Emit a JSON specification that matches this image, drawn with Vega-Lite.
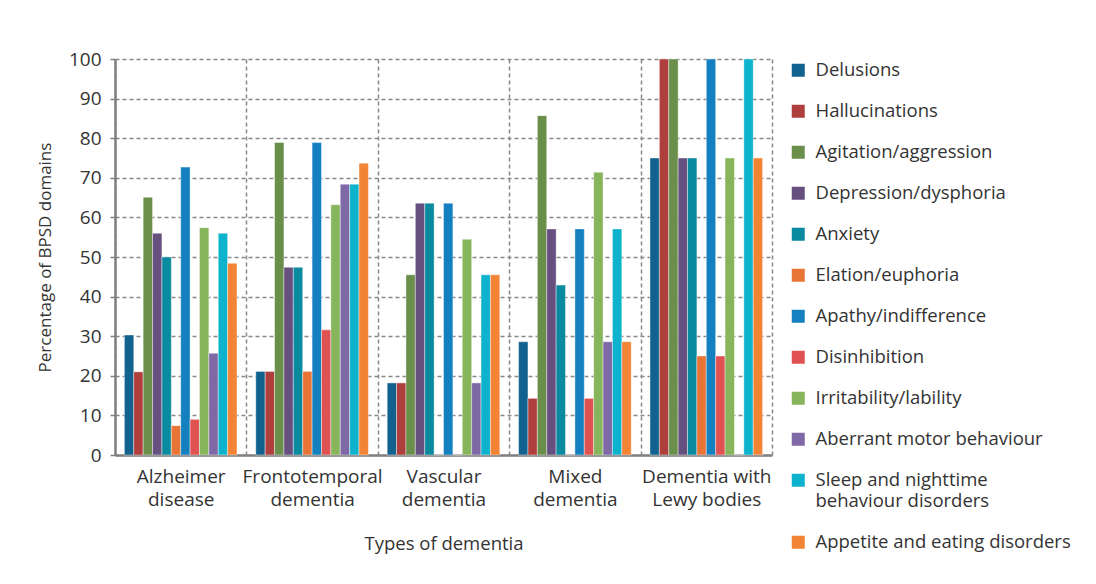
{
  "$schema": "https://vega.github.io/schema/vega-lite/v6.json",
  "width": 657,
  "height": 396,
  "autosize": {"type": "none"},
  "padding": {"left": 115, "top": 59, "right": 324, "bottom": 129},
  "background": "white",
  "config": {
    "font": "Open Sans",
    "view": {"stroke": null},
    "axis": {"labelFont": "Open Sans", "titleFont": "Open Sans", "labelColor": "#333333", "titleColor": "#333333", "labelFontSize": 19, "titleFontSize": 18.5, "titleFontWeight": "normal"},
    "legend": {"labelFont": "Open Sans", "labelFontSize": 18.5, "labelColor": "#333333"}
  },
  "data": {
    "values": [
      {"type": "Alzheimer disease", "symptom": "Delusions", "pct": 30.3},
      {"type": "Alzheimer disease", "symptom": "Hallucinations", "pct": 21.0},
      {"type": "Alzheimer disease", "symptom": "Agitation/aggression", "pct": 65.1},
      {"type": "Alzheimer disease", "symptom": "Depression/dysphoria", "pct": 56.0},
      {"type": "Alzheimer disease", "symptom": "Anxiety", "pct": 50.0},
      {"type": "Alzheimer disease", "symptom": "Elation/euphoria", "pct": 7.4},
      {"type": "Alzheimer disease", "symptom": "Apathy/indifference", "pct": 72.7},
      {"type": "Alzheimer disease", "symptom": "Disinhibition", "pct": 9.0},
      {"type": "Alzheimer disease", "symptom": "Irritability/lability", "pct": 57.4},
      {"type": "Alzheimer disease", "symptom": "Aberrant motor behaviour", "pct": 25.7},
      {"type": "Alzheimer disease", "symptom": "Sleep and nighttime behaviour disorders", "pct": 56.0},
      {"type": "Alzheimer disease", "symptom": "Appetite and eating disorders", "pct": 48.4},
      {"type": "Frontotemporal dementia", "symptom": "Delusions", "pct": 21.1},
      {"type": "Frontotemporal dementia", "symptom": "Hallucinations", "pct": 21.1},
      {"type": "Frontotemporal dementia", "symptom": "Agitation/aggression", "pct": 78.9},
      {"type": "Frontotemporal dementia", "symptom": "Depression/dysphoria", "pct": 47.4},
      {"type": "Frontotemporal dementia", "symptom": "Anxiety", "pct": 47.4},
      {"type": "Frontotemporal dementia", "symptom": "Elation/euphoria", "pct": 21.1},
      {"type": "Frontotemporal dementia", "symptom": "Apathy/indifference", "pct": 78.9},
      {"type": "Frontotemporal dementia", "symptom": "Disinhibition", "pct": 31.6},
      {"type": "Frontotemporal dementia", "symptom": "Irritability/lability", "pct": 63.2},
      {"type": "Frontotemporal dementia", "symptom": "Aberrant motor behaviour", "pct": 68.4},
      {"type": "Frontotemporal dementia", "symptom": "Sleep and nighttime behaviour disorders", "pct": 68.4},
      {"type": "Frontotemporal dementia", "symptom": "Appetite and eating disorders", "pct": 73.7},
      {"type": "Vascular dementia", "symptom": "Delusions", "pct": 18.2},
      {"type": "Vascular dementia", "symptom": "Hallucinations", "pct": 18.2},
      {"type": "Vascular dementia", "symptom": "Agitation/aggression", "pct": 45.5},
      {"type": "Vascular dementia", "symptom": "Depression/dysphoria", "pct": 63.6},
      {"type": "Vascular dementia", "symptom": "Anxiety", "pct": 63.6},
      {"type": "Vascular dementia", "symptom": "Elation/euphoria", "pct": 0},
      {"type": "Vascular dementia", "symptom": "Apathy/indifference", "pct": 63.6},
      {"type": "Vascular dementia", "symptom": "Disinhibition", "pct": 0},
      {"type": "Vascular dementia", "symptom": "Irritability/lability", "pct": 54.5},
      {"type": "Vascular dementia", "symptom": "Aberrant motor behaviour", "pct": 18.2},
      {"type": "Vascular dementia", "symptom": "Sleep and nighttime behaviour disorders", "pct": 45.5},
      {"type": "Vascular dementia", "symptom": "Appetite and eating disorders", "pct": 45.5},
      {"type": "Mixed dementia", "symptom": "Delusions", "pct": 28.6},
      {"type": "Mixed dementia", "symptom": "Hallucinations", "pct": 14.3},
      {"type": "Mixed dementia", "symptom": "Agitation/aggression", "pct": 85.7},
      {"type": "Mixed dementia", "symptom": "Depression/dysphoria", "pct": 57.1},
      {"type": "Mixed dementia", "symptom": "Anxiety", "pct": 42.9},
      {"type": "Mixed dementia", "symptom": "Elation/euphoria", "pct": 0},
      {"type": "Mixed dementia", "symptom": "Apathy/indifference", "pct": 57.1},
      {"type": "Mixed dementia", "symptom": "Disinhibition", "pct": 14.3},
      {"type": "Mixed dementia", "symptom": "Irritability/lability", "pct": 71.4},
      {"type": "Mixed dementia", "symptom": "Aberrant motor behaviour", "pct": 28.6},
      {"type": "Mixed dementia", "symptom": "Sleep and nighttime behaviour disorders", "pct": 57.1},
      {"type": "Mixed dementia", "symptom": "Appetite and eating disorders", "pct": 28.6},
      {"type": "Dementia with Lewy bodies", "symptom": "Delusions", "pct": 75},
      {"type": "Dementia with Lewy bodies", "symptom": "Hallucinations", "pct": 100},
      {"type": "Dementia with Lewy bodies", "symptom": "Agitation/aggression", "pct": 100},
      {"type": "Dementia with Lewy bodies", "symptom": "Depression/dysphoria", "pct": 75},
      {"type": "Dementia with Lewy bodies", "symptom": "Anxiety", "pct": 75},
      {"type": "Dementia with Lewy bodies", "symptom": "Elation/euphoria", "pct": 25},
      {"type": "Dementia with Lewy bodies", "symptom": "Apathy/indifference", "pct": 100},
      {"type": "Dementia with Lewy bodies", "symptom": "Disinhibition", "pct": 25},
      {"type": "Dementia with Lewy bodies", "symptom": "Irritability/lability", "pct": 75},
      {"type": "Dementia with Lewy bodies", "symptom": "Aberrant motor behaviour", "pct": 0},
      {"type": "Dementia with Lewy bodies", "symptom": "Sleep and nighttime behaviour disorders", "pct": 100},
      {"type": "Dementia with Lewy bodies", "symptom": "Appetite and eating disorders", "pct": 75}
    ]
  },
  "mark": {"type": "bar", "stroke": "white", "strokeOpacity": 0.5, "strokeWidth": 0.8},
  "encoding": {
    "x": {
      "field": "type", "type": "nominal", "sort": null,
      "scale": {"paddingInner": 0, "paddingOuter": 0},
      "axis": {
        "title": "Types of dementia", "labelAngle": 0, "ticks": false, "tickBand": "extent",
        "grid": true, "gridDash": [4, 3], "gridColor": "#888888", "gridWidth": 1.5,
        "domainColor": "#808080", "domainWidth": 2.5,
        "labelPadding": 12, "labelLineHeight": 23, "titlePadding": 25,
        "labelExpr": "!isValid(datum.value) ? '' : datum.value == 'Dementia with Lewy bodies' ? ['Dementia with', 'Lewy bodies'] : split(datum.value, ' ')"
      }
    },
    "xOffset": {
      "field": "symptom", "type": "nominal", "sort": null,
      "scale": {"paddingInner": 0, "paddingOuter": 1.5}
    },
    "y": {
      "field": "pct", "type": "quantitative",
      "scale": {"domain": [0, 100]},
      "axis": {
        "title": "Percentage of BPSD domains", "titleFontSize": 17, "values": [0,10,20,30,40,50,60,70,80,90,100], "labelOverlap": false,
        "grid": true, "gridDash": [4, 3], "gridColor": "#888888", "gridWidth": 1.5,
        "domainColor": "#808080", "domainWidth": 2.5, "tickColor": "#808080", "tickSize": 5, "tickWidth": 1.5,
        "labelPadding": 9, "titlePadding": 14
      }
    },
    "color": {
      "field": "symptom", "type": "nominal", "sort": null,
      "scale": {
        "domain": ["Delusions", "Hallucinations", "Agitation/aggression", "Depression/dysphoria", "Anxiety", "Elation/euphoria", "Apathy/indifference", "Disinhibition", "Irritability/lability", "Aberrant motor behaviour", "Sleep and nighttime behaviour disorders", "Appetite and eating disorders"],
        "range": ["#12628f", "#ae3f3c", "#6a8f4b", "#66507f", "#0a8a9f", "#e87436", "#1580c0", "#e05151", "#86b55b", "#7f68a6", "#0db3cd", "#f38436"]
      },
      "legend": {
        "title": null, "offset": 15, "padding": 2, "symbolType": "square", "symbolSize": 169, "symbolStrokeWidth": 0,
        "labelOffset": 8, "rowPadding": 22, "labelLimit": 400, "labelBaseline": "middle",
        "labelExpr": "datum.label == 'Sleep and nighttime behaviour disorders' ? ['Sleep and nighttime', 'behaviour disorders'] : datum.label"
      }
    }
  }
}
